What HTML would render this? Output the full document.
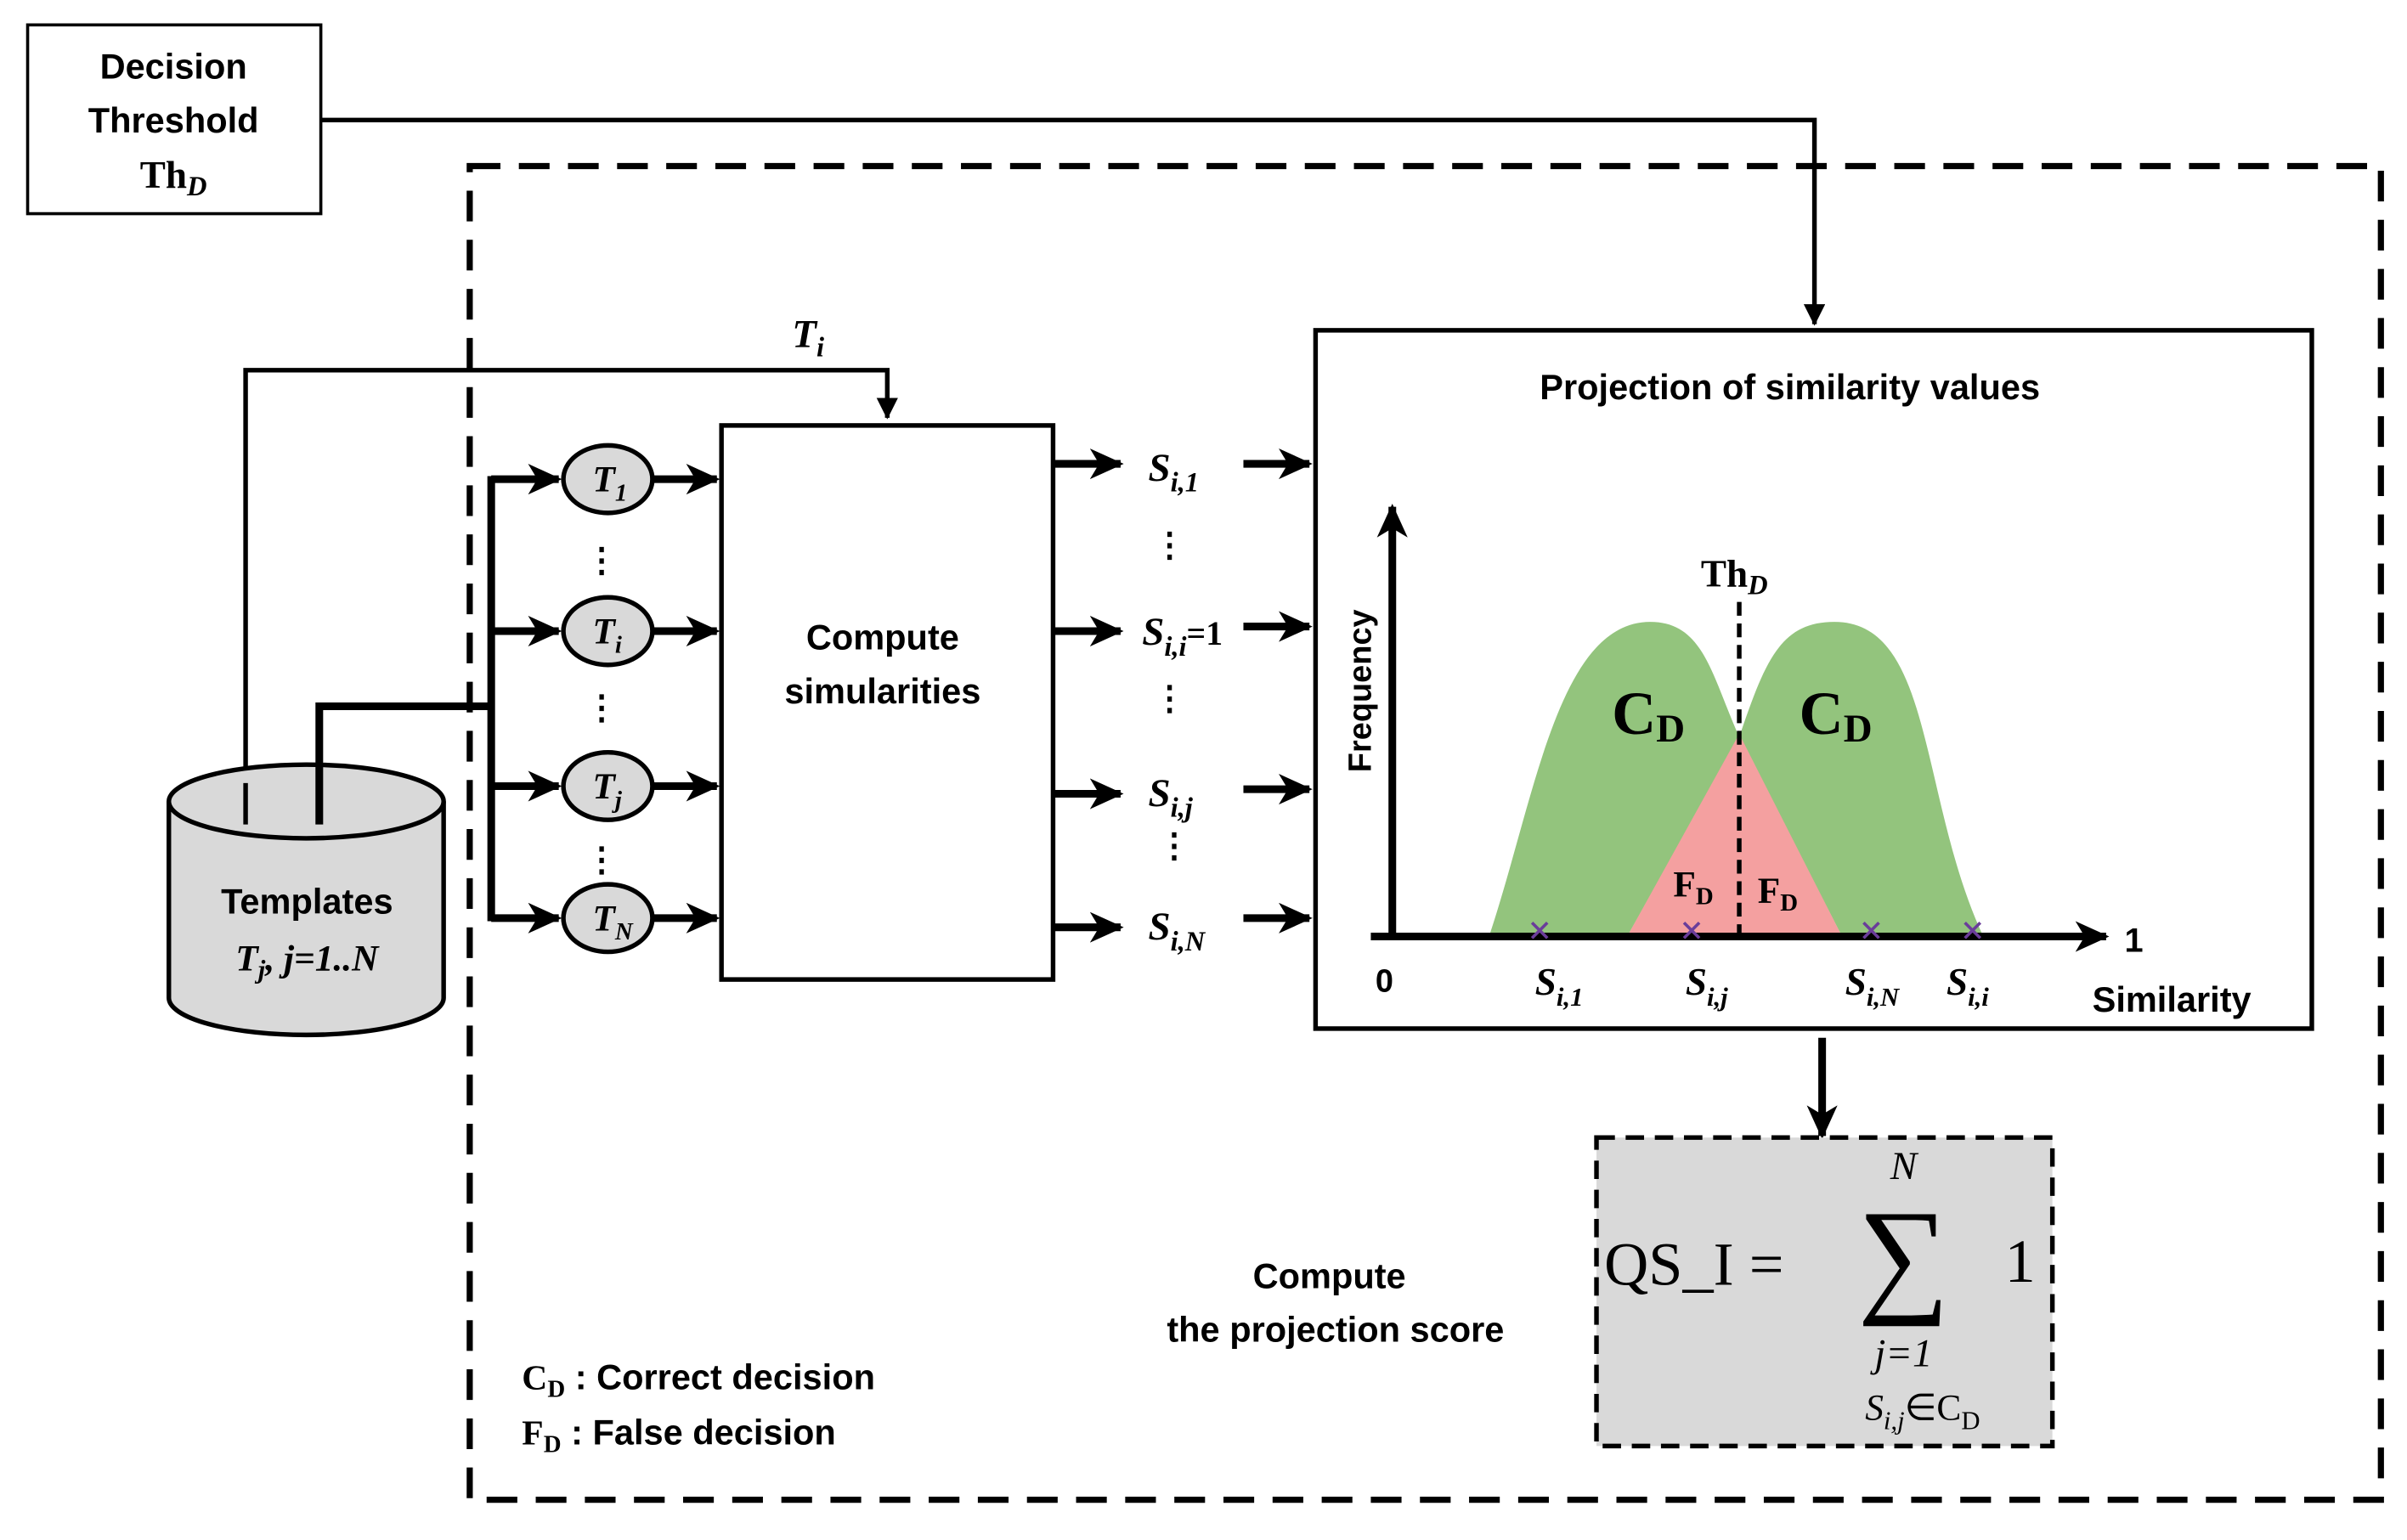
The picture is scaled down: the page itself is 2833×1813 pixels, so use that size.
<!DOCTYPE html>
<html><head><meta charset="utf-8"><style>
html,body{margin:0;padding:0;background:#fff;}
svg{display:block;}
text{font-family:"Liberation Sans",sans-serif;font-weight:bold;fill:#000;}
text.s,tspan.s{font-family:"Liberation Serif",serif;font-style:italic;font-weight:bold;}
text.r,tspan.r{font-family:"Liberation Serif",serif;font-weight:bold;}
text.n,tspan.n{font-family:"Liberation Serif",serif;font-weight:normal;}
text.ni{font-family:"Liberation Serif",serif;font-weight:normal;font-style:italic;}
</style></head><body>
<svg width="2833" height="1813" viewBox="0 0 1568 1003" xmlns="http://www.w3.org/2000/svg">
<defs>
<marker id="b" markerWidth="22" markerHeight="20" refX="20" refY="10" orient="auto" markerUnits="userSpaceOnUse"><path d="M0,0 L22,10 L0,20 L6,10 Z" fill="#000"/></marker>
<marker id="c" markerWidth="14" markerHeight="14" refX="13" refY="7" orient="auto" markerUnits="userSpaceOnUse"><path d="M0,0 L14,7 L0,14 Z" fill="#000"/></marker>
</defs>
<rect x="306" y="108" width="1245" height="869" fill="none" stroke="#000" stroke-width="4" stroke-dasharray="20,12"/>
<rect x="18" y="16" width="191" height="123" fill="#fff" stroke="#000" stroke-width="2"/>
<text x="113" y="51" font-size="23" text-anchor="middle">Decision</text>
<text x="113" y="86" font-size="23" text-anchor="middle">Threshold</text>
<text x="113" y="122" font-size="25" text-anchor="middle" class="r">Th<tspan class="s" font-size="18" dy="5">D</tspan></text>
<polyline points="209,78 1182,78 1182,211" fill="none" stroke="#000" stroke-width="3" marker-end="url(#c)"/>
<polyline points="160,535 160,241 578,241 578,272" fill="none" stroke="#000" stroke-width="3" marker-end="url(#c)"/>
<text x="516" y="226" class="s" font-size="26">T<tspan font-size="18" dy="6">i</tspan></text>
<path d="M110,522 L110,650 A89,24 0 0 0 289,650 L289,522" fill="#d9d9d9" stroke="#000" stroke-width="3"/>
<ellipse cx="199.5" cy="522" rx="89.5" ry="24" fill="#d9d9d9" stroke="#000" stroke-width="3"/>
<text x="200" y="595" font-size="23" text-anchor="middle">Templates</text>
<text x="200" y="632" font-size="24" text-anchor="middle" class="s">T<tspan font-size="17" dy="5">j</tspan><tspan dy="-5">, j=1..N</tspan></text>
<line x1="160" y1="537" x2="160" y2="510" stroke="#000" stroke-width="3"/>
<polyline points="208,537 208,460 320,460" fill="none" stroke="#000" stroke-width="5"/>
<line x1="320" y1="310" x2="320" y2="600" stroke="#000" stroke-width="5"/>
<g stroke="#000" stroke-width="5" fill="none">
<line x1="320" y1="312" x2="364" y2="312" marker-end="url(#b)"/>
<line x1="320" y1="411" x2="364" y2="411" marker-end="url(#b)"/>
<line x1="320" y1="512" x2="364" y2="512" marker-end="url(#b)"/>
<line x1="320" y1="598" x2="364" y2="598" marker-end="url(#b)"/>
<line x1="425" y1="312" x2="467" y2="312" marker-end="url(#b)"/>
<line x1="425" y1="411" x2="467" y2="411" marker-end="url(#b)"/>
<line x1="425" y1="512" x2="467" y2="512" marker-end="url(#b)"/>
<line x1="425" y1="598" x2="467" y2="598" marker-end="url(#b)"/>
<line x1="686" y1="302" x2="730" y2="302" marker-end="url(#b)"/>
<line x1="686" y1="411" x2="730" y2="411" marker-end="url(#b)"/>
<line x1="686" y1="517" x2="730" y2="517" marker-end="url(#b)"/>
<line x1="686" y1="604" x2="730" y2="604" marker-end="url(#b)"/>
<line x1="810" y1="302" x2="853" y2="302" marker-end="url(#b)"/>
<line x1="810" y1="408" x2="853" y2="408" marker-end="url(#b)"/>
<line x1="810" y1="514" x2="853" y2="514" marker-end="url(#b)"/>
<line x1="810" y1="598" x2="853" y2="598" marker-end="url(#b)"/>
</g>
<g fill="#d9d9d9" stroke="#000" stroke-width="3">
<ellipse cx="396" cy="312" rx="29" ry="22"/><ellipse cx="396" cy="411" rx="29" ry="22"/>
<ellipse cx="396" cy="512" rx="29" ry="22"/><ellipse cx="396" cy="598" rx="29" ry="22"/>
</g>
<text x="386" y="320" class="s" font-size="24">T<tspan font-size="16" dy="6">1</tspan></text>
<text x="386" y="419" class="s" font-size="24">T<tspan font-size="16" dy="6">i</tspan></text>
<text x="386" y="520" class="s" font-size="24">T<tspan font-size="16" dy="6">j</tspan></text>
<text x="386" y="606" class="s" font-size="24">T<tspan font-size="16" dy="6">N</tspan></text>
<g font-size="22"><text x="392" y="372" text-anchor="middle">⋮</text><text x="392" y="468" text-anchor="middle">⋮</text><text x="392" y="567" text-anchor="middle">⋮</text>
<text x="762" y="362" text-anchor="middle">⋮</text><text x="762" y="462" text-anchor="middle">⋮</text><text x="765" y="558" text-anchor="middle">⋮</text></g>
<rect x="470" y="277" width="216" height="361" fill="#fff" stroke="#000" stroke-width="3"/>
<text x="575" y="423" font-size="23" text-anchor="middle">Compute</text>
<text x="575" y="458" font-size="23" text-anchor="middle">simularities</text>
<text x="748" y="313" class="s" font-size="26">S<tspan font-size="18" dy="7">i,1</tspan></text>
<text x="744" y="420" class="s" font-size="26">S<tspan font-size="18" dy="7">i,i</tspan><tspan dy="-7" font-style="normal" font-size="22">=1</tspan></text>
<text x="748" y="525" class="s" font-size="26">S<tspan font-size="18" dy="7">i,j</tspan></text>
<text x="748" y="612" class="s" font-size="26">S<tspan font-size="18" dy="7">i,N</tspan></text>
<rect x="857" y="215" width="649" height="455" fill="#fff" stroke="#000" stroke-width="3"/>
<text x="1166" y="260" font-size="23" text-anchor="middle">Projection of similarity values</text>
<path d="M970,610 C1000,520 1015,405 1075,405 C1110,405 1115,440 1133,480 L1060,610 Z" fill="#93c47d"/>
<path d="M1133,480 C1150,430 1160,405 1195,405 C1260,405 1250,520 1292,610 L1200,610 Z" fill="#93c47d"/>
<path d="M1060,610 L1133,478 L1200,610 Z" fill="#f4a0a0"/>
<line x1="1133" y1="392" x2="1133" y2="610" stroke="#000" stroke-width="3" stroke-dasharray="9,5"/>
<line x1="907" y1="612" x2="907" y2="330" stroke="#000" stroke-width="5" marker-end="url(#b)"/>
<line x1="893" y1="610" x2="1372" y2="610" stroke="#000" stroke-width="5" marker-end="url(#b)"/>
<text x="0" y="0" font-size="21" transform="translate(893,503) rotate(-90)">Frequency</text>
<text x="1108" y="382" font-size="25" class="r">Th<tspan class="s" font-size="18" dy="5">D</tspan></text>
<text x="1050" y="478" font-size="40" class="r">C<tspan font-size="26" dy="5">D</tspan></text>
<text x="1172" y="478" font-size="40" class="r">C<tspan font-size="26" dy="5">D</tspan></text>
<text x="1090" y="584" font-size="24" class="r">F<tspan font-size="16" dy="5">D</tspan></text>
<text x="1145" y="588" font-size="24" class="r">F<tspan font-size="16" dy="5">D</tspan></text>
<g stroke="#6a3d9a" stroke-width="2">
<path d="M998,601 l10,10 M1008,601 l-10,10"/><path d="M1097,601 l10,10 M1107,601 l-10,10"/>
<path d="M1214,601 l10,10 M1224,601 l-10,10"/><path d="M1280,601 l10,10 M1290,601 l-10,10"/></g>
<text x="896" y="646" font-size="21">0</text>
<text x="1384" y="620" font-size="22">1</text>
<text x="1363" y="659" font-size="23">Similarity</text>
<text x="1000" y="648" class="s" font-size="25">S<tspan font-size="17" dy="7">i,1</tspan></text>
<text x="1098" y="648" class="s" font-size="25">S<tspan font-size="17" dy="7">i,j</tspan></text>
<text x="1202" y="648" class="s" font-size="25">S<tspan font-size="17" dy="7">i,N</tspan></text>
<text x="1268" y="648" class="s" font-size="25">S<tspan font-size="17" dy="7">i,i</tspan></text>
<line x1="1187" y1="676" x2="1187" y2="740" stroke="#000" stroke-width="5" marker-end="url(#b)"/>
<rect x="1040" y="741" width="297" height="201" fill="#d9d9d9" stroke="#000" stroke-width="3" stroke-dasharray="12,7"/>
<text x="1045" y="837" font-size="40" class="n">QS_I =</text>
<text x="1240" y="846" font-size="84" class="n" text-anchor="middle">∑</text>
<text x="1240" y="768" font-size="26" class="ni" text-anchor="middle">N</text>
<text x="1240" y="890" font-size="26" class="ni" text-anchor="middle">j=1</text>
<text x="1215" y="925" font-size="24" class="ni">S<tspan font-size="17" dy="6">i,j</tspan><tspan dy="-6" font-style="normal">∈C</tspan><tspan font-size="17" dy="6" font-style="normal">D</tspan></text>
<text x="1306" y="835" font-size="40" class="n">1</text>
<text x="866" y="839" font-size="23" text-anchor="middle">Compute</text>
<text x="870" y="874" font-size="23" text-anchor="middle">the projection score</text>
<text x="340" y="905" font-size="23"><tspan class="r">C<tspan font-size="16" dy="5">D</tspan></tspan><tspan dy="-5"> : Correct decision</tspan></text>
<text x="340" y="941" font-size="23"><tspan class="r">F<tspan font-size="16" dy="5">D</tspan></tspan><tspan dy="-5"> : False decision</tspan></text>
</svg>
</body></html>
